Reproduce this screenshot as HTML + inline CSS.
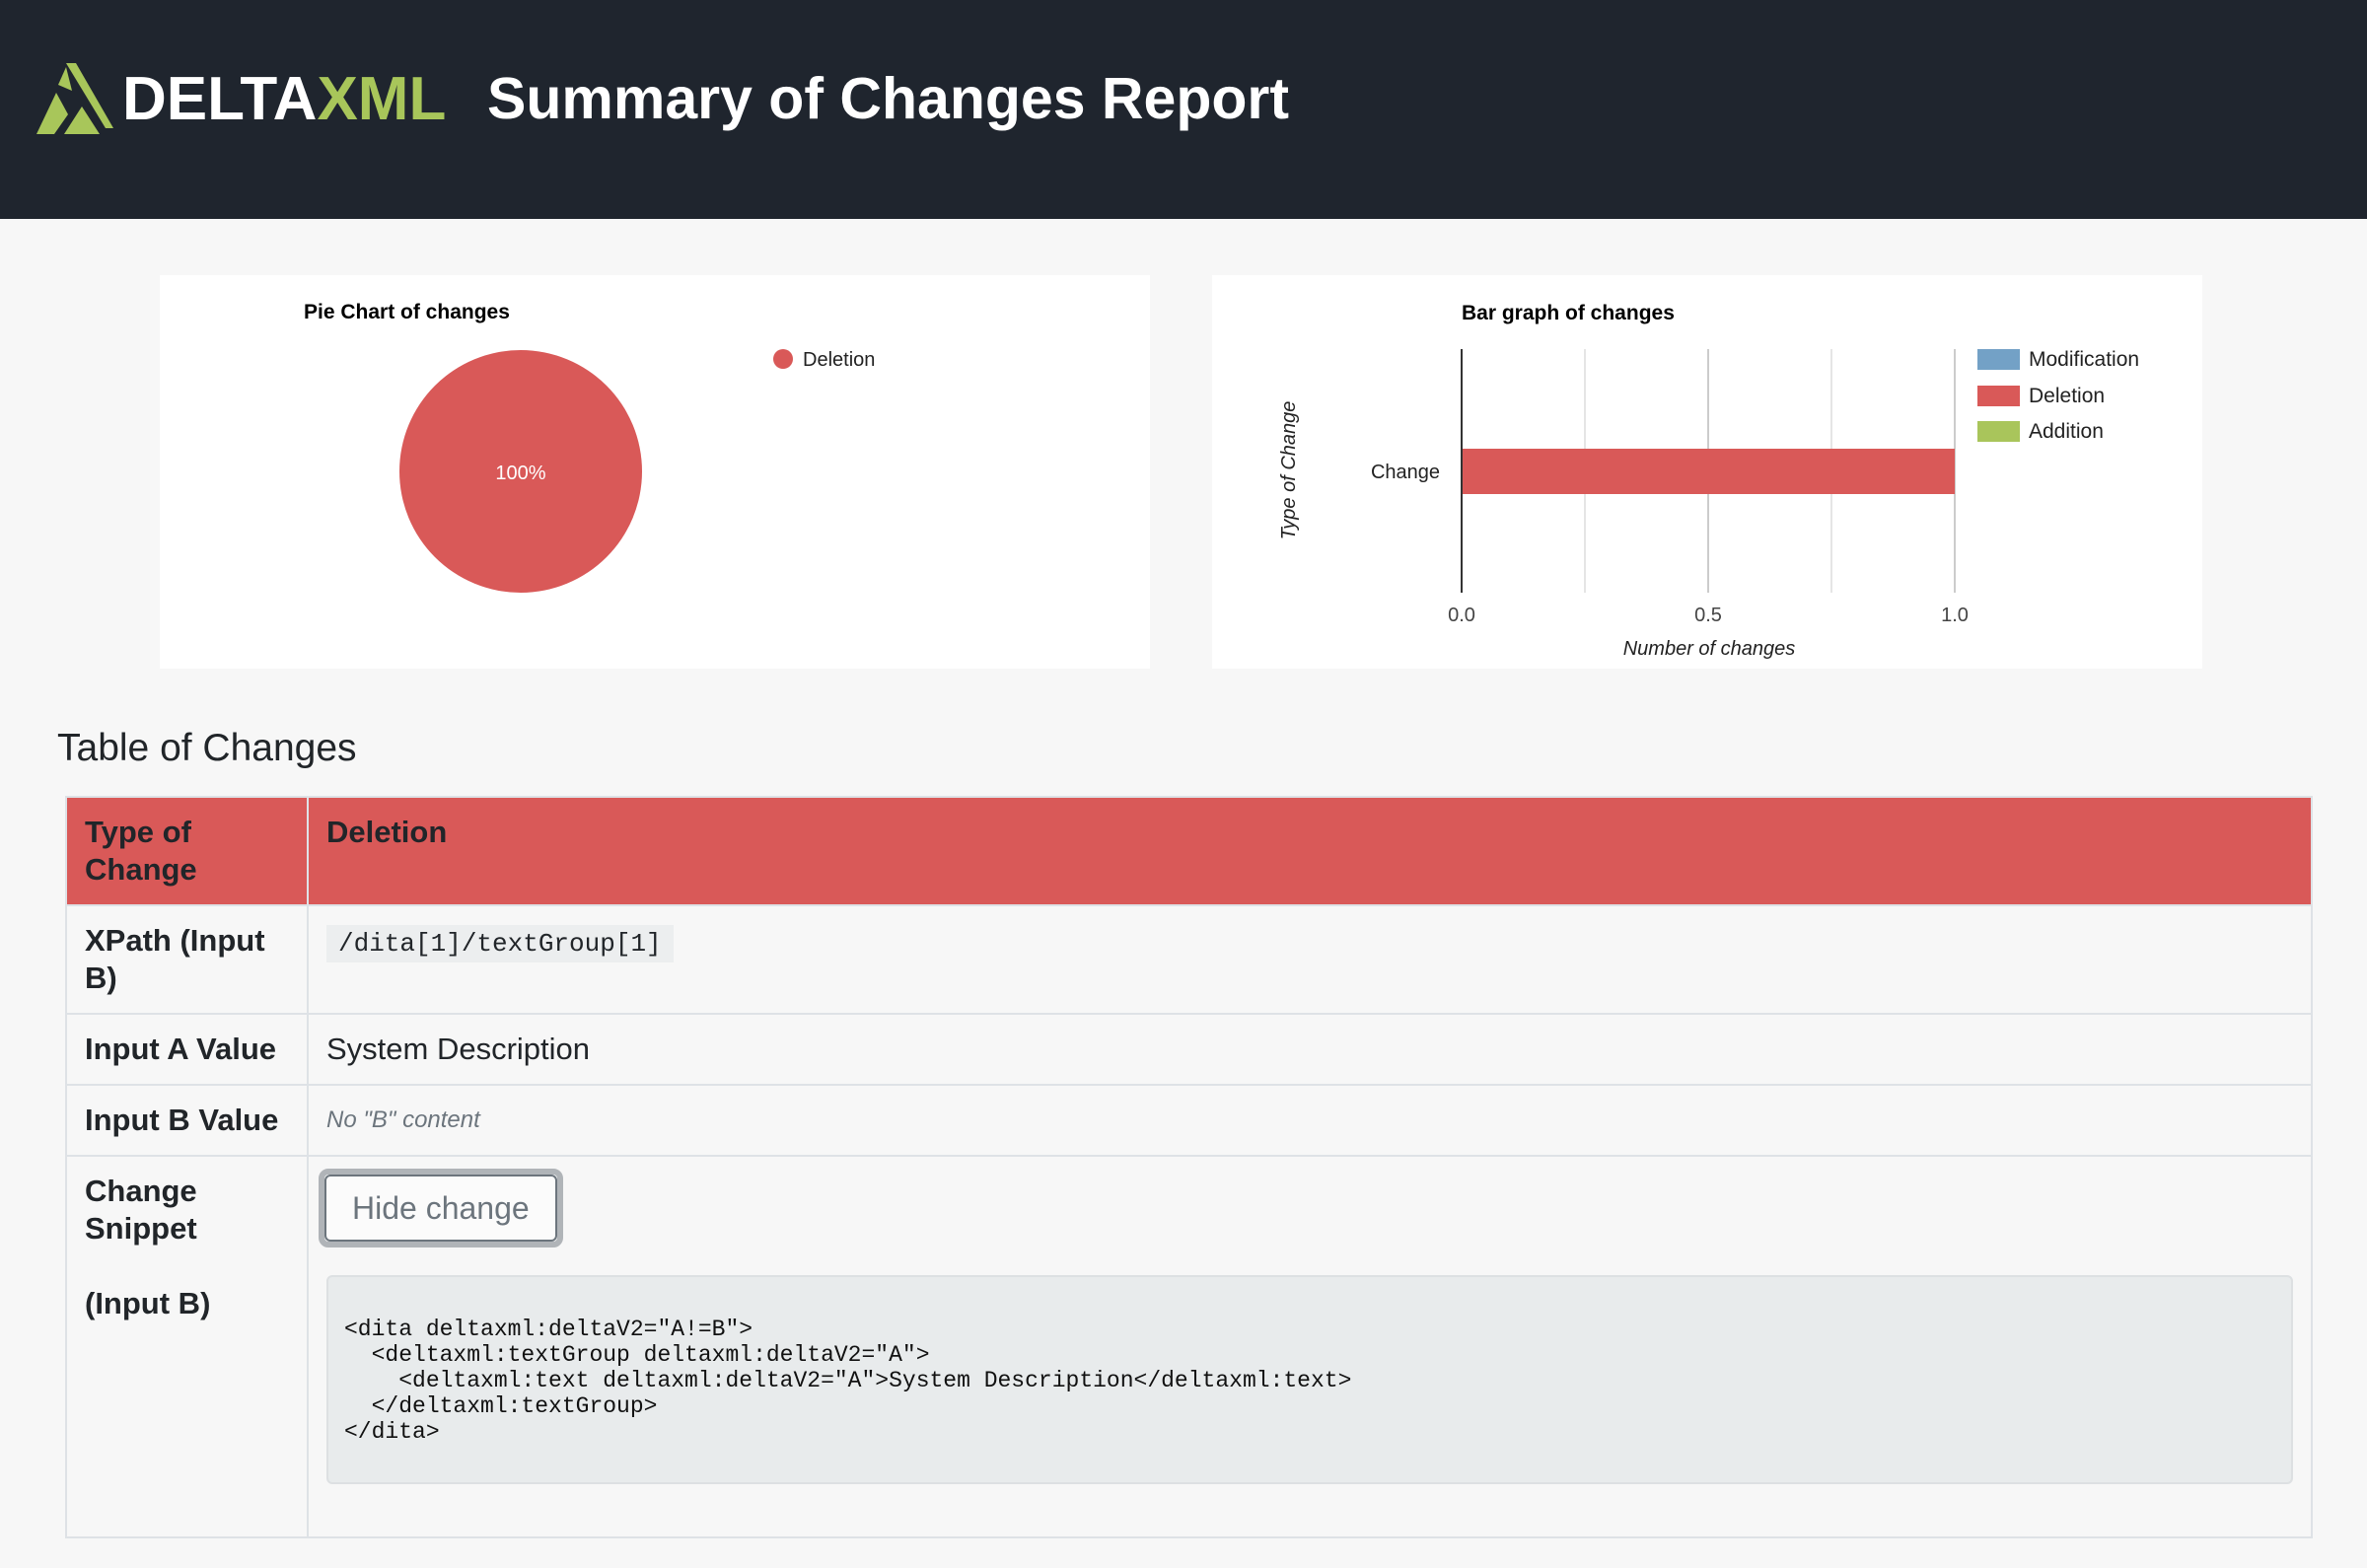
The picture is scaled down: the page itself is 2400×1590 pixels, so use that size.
<!DOCTYPE html>
<html><head><meta charset="utf-8"><style>
*{margin:0;padding:0;box-sizing:border-box}
body{width:2400px;height:1590px;background:#f7f7f7;font-family:"Liberation Sans",Arial,sans-serif;position:relative;overflow:hidden;color:#212529}
.hdr{position:absolute;left:0;top:0;width:2400px;height:222px;background:#1f252e}
.abs{position:absolute;white-space:nowrap}
.card{position:absolute;background:#fff;top:279px;height:399px;width:1004px}
table{position:absolute;left:66px;top:807px;width:2279px;border-collapse:collapse}
td{border:2px solid #dee2e6;vertical-align:top;padding:16px 18px;font-size:31px;line-height:38px}
td.h{font-weight:bold;width:245px}
</style></head><body>
<div class="hdr">
<svg class="abs" style="left:37px;top:64px" width="82" height="72" viewBox="0 0 82 72">
<polygon points="30,0 40,0 78,66 70,66" fill="#a8c65a"/>
<polygon points="0,72 20,30 32,52 18,72" fill="#a8c65a"/>
<polygon points="28,72 46,44 64,72" fill="#a8c65a"/>
<polygon points="22,22 30,4 36,28" fill="#a8c65a"/>
</svg>
<div class="abs" style="left:124px;top:68px;font-size:62px;font-weight:bold;line-height:66px;color:#fff">DELTA<span style="color:#a8c65a">XML</span></div>
<div class="abs" style="left:494px;top:64px;font-size:59px;line-height:72px;color:#fff;font-weight:bold">Summary of Changes Report</div>
</div>

<div class="card" style="left:162px">
<div class="abs" style="left:146px;top:26px;font-size:21px;font-weight:bold;color:#000">Pie Chart of changes</div>
<svg class="abs" style="left:0;top:0" width="1004" height="399">
<circle cx="366" cy="199" r="123" fill="#d95958"/>
<text x="366" y="207" font-size="20" fill="#fff" text-anchor="middle" font-family="Liberation Sans">100%</text>
<circle cx="632" cy="85" r="10" fill="#d95958"/>
<text x="652" y="92" font-size="20" fill="#222" font-family="Liberation Sans">Deletion</text>
</svg>
</div>

<div class="card" style="left:1229px">
<svg class="abs" style="left:0;top:0" width="1004" height="399" font-family="Liberation Sans">
<text x="253" y="45" font-size="21" font-weight="bold" fill="#000">Bar graph of changes</text>
<line x1="378" y1="75" x2="378" y2="322" stroke="#e5e5e5" stroke-width="2"/>
<line x1="503" y1="75" x2="503" y2="322" stroke="#ccc" stroke-width="2"/>
<line x1="628" y1="75" x2="628" y2="322" stroke="#e5e5e5" stroke-width="2"/>
<line x1="753" y1="75" x2="753" y2="322" stroke="#ccc" stroke-width="2"/>
<rect x="253" y="176" width="500" height="46" fill="#d95958"/>
<line x1="253" y1="75" x2="253" y2="322" stroke="#333" stroke-width="2"/>
<text x="231" y="206" font-size="20" fill="#222" text-anchor="end">Change</text>
<text x="253" y="351" font-size="20" fill="#444" text-anchor="middle">0.0</text>
<text x="503" y="351" font-size="20" fill="#444" text-anchor="middle">0.5</text>
<text x="753" y="351" font-size="20" fill="#444" text-anchor="middle">1.0</text>
<text x="504" y="385" font-size="20" fill="#222" text-anchor="middle" font-style="italic">Number of changes</text>
<text transform="translate(84,198) rotate(-90)" font-size="20" fill="#222" text-anchor="middle" font-style="italic">Type of Change</text>
<rect x="776" y="75" width="43" height="21" fill="#73a1c6"/>
<rect x="776" y="112" width="43" height="21" fill="#d95958"/>
<rect x="776" y="148" width="43" height="21" fill="#a9c55b"/>
<text x="828" y="92" font-size="21" fill="#222">Modification</text>
<text x="828" y="129" font-size="21" fill="#222">Deletion</text>
<text x="828" y="165" font-size="21" fill="#222">Addition</text>
</svg>
</div>

<div class="abs" style="left:58px;top:736px;font-size:39px;line-height:46px;color:#212529">Table of Changes</div>

<table>
<tr style="background:#d95958;height:110px"><td class="h">Type of Change</td><td style="font-weight:bold">Deletion</td></tr>
<tr style="height:110px"><td class="h">XPath (Input B)</td><td><span style="font-family:'Liberation Mono',monospace;font-size:26px;background:#eceeef;padding:4px 12px">/dita[1]/textGroup[1]</span></td></tr>
<tr style="height:72px"><td class="h" style="padding-top:16px">Input A Value</td><td>System Description</td></tr>
<tr style="height:72px"><td class="h">Input B Value</td><td style="font-style:italic;color:#6c757d;font-size:24px">No "B" content</td></tr>
<tr style="height:387px"><td class="h">Change Snippet<br><br>(Input B)</td><td style="padding-left:10px;padding-right:18px">
<div style="display:inline-block;border:6px solid #b0b4b8;border-radius:10px;margin-top:-4px"><div style="border:2px solid #6c757d;border-radius:6px;padding:13px 26px;font-size:32px;color:#6c757d;background:#fff8">Hide change</div></div>
<div style="margin-top:28px;margin-left:8px;background:#e8ebec;border:2px solid #dde0e2;border-radius:6px;height:212px;padding:40px 16px;font-family:'Liberation Mono',monospace;font-size:23px;line-height:26px;white-space:pre;color:#111">&lt;dita deltaxml:deltaV2="A!=B"&gt;
  &lt;deltaxml:textGroup deltaxml:deltaV2="A"&gt;
    &lt;deltaxml:text deltaxml:deltaV2="A"&gt;System Description&lt;/deltaxml:text&gt;
  &lt;/deltaxml:textGroup&gt;
&lt;/dita&gt;</div>
</td></tr>
</table>
</body></html>
